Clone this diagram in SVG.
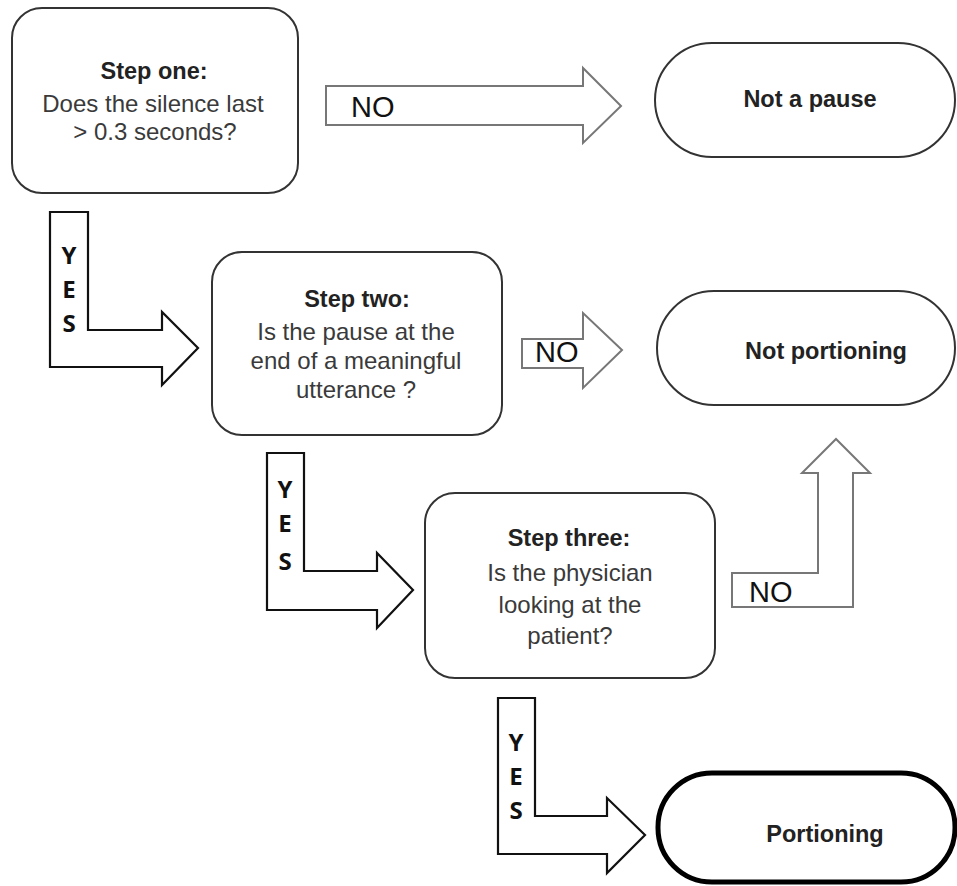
<svg xmlns="http://www.w3.org/2000/svg" width="957" height="886" viewBox="0 0 957 886">
<style>
.box{fill:#fff;stroke:#333;stroke-width:2}
.term{fill:#fff;stroke:#333;stroke-width:2}
.term-bold{fill:#fff;stroke:#000;stroke-width:5}
.yes{fill:#fff;stroke:#111;stroke-width:2.2;stroke-linejoin:miter}
.no{fill:#fff;stroke:#777;stroke-width:2;stroke-linejoin:miter}
text{font-family:"Liberation Sans","Open Sans",sans-serif;fill:#3a3a3a}
.t{font-size:24px;text-anchor:middle}
.b{font-weight:bold;fill:#222;font-size:23.5px}
.lab{font-family:"Liberation Sans",sans-serif;font-size:29px;fill:#111}
.yl{font-family:"Open Sans",sans-serif;font-size:24px;font-weight:bold;fill:#111;text-anchor:middle}
</style>
<rect width="957" height="886" fill="#fff"/>
<g id="step1">
<rect class="box" x="12" y="8" width="286" height="185" rx="30"/>
<text class="t b" x="154" y="79">Step one:</text>
<text class="t" x="153" y="112">Does the silence last</text>
<text class="t" x="155" y="140">&gt; 0.3 seconds?</text>
</g>
<g id="not-pause">
<rect class="term" x="655" y="43" width="300" height="114" rx="57"/>
<text class="t b" x="810" y="107">Not a pause</text>
</g>
<g id="step2">
<rect class="box" x="212" y="252" width="290" height="183" rx="30"/>
<text class="t b" x="357" y="307">Step two:</text>
<text class="t" x="356" y="340">Is the pause at the</text>
<text class="t" x="356" y="369">end of a meaningful</text>
<text class="t" x="356" y="398">utterance ?</text>
</g>
<g id="not-portioning">
<rect class="term" x="657" y="291" width="298" height="114" rx="57"/>
<text class="t b" x="826" y="359">Not portioning</text>
</g>
<g id="step3">
<rect class="box" x="425" y="493" width="290" height="185" rx="30"/>
<text class="t b" x="569" y="546">Step three:</text>
<text class="t" x="570" y="581">Is the physician</text>
<text class="t" x="570" y="613">looking at the</text>
<text class="t" x="570" y="644">patient?</text>
</g>
<g id="portioning">
<rect class="term-bold" x="658" y="773" width="297" height="109" rx="54"/>
<text class="t b" x="825" y="842">Portioning</text>
</g>
<g id="connectors">
<g id="no1">
<path class="no" d="M326,86 H583 V68 L621,106 L583,143 V125 H326 Z"/>
<text class="lab" x="351" y="117">NO</text>
</g>
<g id="yes1">
<path class="yes" d="M50,212 H88 V330 H162 V312 L198,348 L162,385 V367 H50 Z"/>
<text class="yl" x="69" y="264">Y</text>
<text class="yl" x="69" y="298">E</text>
<text class="yl" x="69" y="332">S</text>
</g>
<g id="no2">
<path class="no" d="M522,339 H583 V313 L622,350 L583,388 V368 H522 Z"/>
<text class="lab" x="535" y="362">NO</text>
</g>
<g id="yes2">
<path class="yes" d="M267,453 H304 V571 H377 V553 L413,590 L377,628 V610 H267 Z"/>
<text class="yl" x="285" y="498">Y</text>
<text class="yl" x="285" y="532">E</text>
<text class="yl" x="285" y="570">S</text>
</g>
<g id="no3">
<path class="no" d="M732,573 H818 V473 H802 L836,439 L870,473 H853 V607 H732 Z"/>
<text class="lab" x="749" y="602">NO</text>
</g>
<g id="yes3">
<path class="yes" d="M498,698 H535 V816 H607 V798 L645,835 L607,873 V854 H498 Z"/>
<text class="yl" x="516" y="751">Y</text>
<text class="yl" x="516" y="785">E</text>
<text class="yl" x="516" y="819">S</text>
</g>
</g>
</svg>
